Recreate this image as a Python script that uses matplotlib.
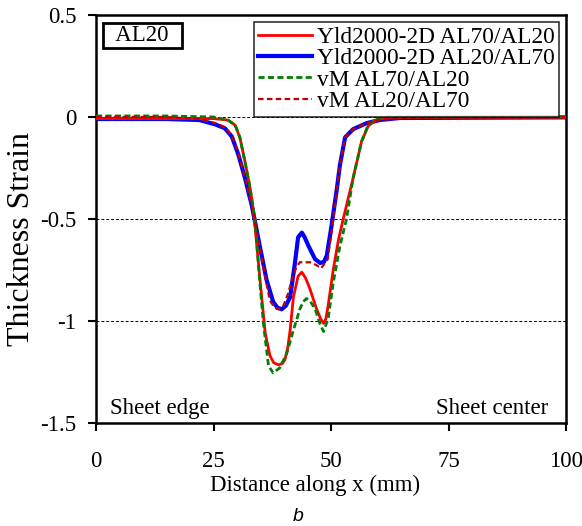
import matplotlib
matplotlib.use("Agg")
import matplotlib.pyplot as plt

plt.rcParams['font.family'] = ['Liberation Serif', 'DejaVu Serif']

# thickness strain profiles along x (mm)
x_yld_70_20 = [0, 15, 25, 28, 29.6, 30.6, 31.7, 32.8, 33.6, 34.9, 36.0, 37.0, 37.8, 38.8,
               39.6, 40.2, 40.8, 41.3, 42.0, 43.0, 43.8, 44.6, 45.5, 46.9, 47.8, 48.4, 48.9,
               49.4, 50.5, 51.6, 52.6, 54.7, 56.5, 57.9, 59.7, 61.8, 70, 100]
y_yld_70_20 = [-0.008, -0.008, -0.008, -0.015, -0.04, -0.10, -0.22, -0.35, -0.48, -0.80, -1.06,
               -1.17, -1.205, -1.215, -1.21, -1.19, -1.13, -1.045, -0.883, -0.78, -0.761, -0.79,
               -0.842, -0.94, -0.99, -1.012, -0.99, -0.923, -0.745, -0.60, -0.50, -0.30, -0.12,
               -0.045, -0.013, -0.005, -0.002, -0.002]

x_yld_20_70 = [0, 15, 22, 25.3, 27.4, 28.9, 30.3, 31.7, 33.1, 33.8, 34.9, 36.3, 37.7, 38.6,
               39.5, 40.4, 41.3, 42.3, 43.0, 43.8, 44.4, 45.2, 46.6, 47.7, 48.5, 49.1, 50.1,
               51.2, 51.9, 53.0, 54.7, 57.6, 60.4, 64.7, 100]
y_yld_20_70 = [-0.01, -0.01, -0.015, -0.036, -0.055, -0.096, -0.186, -0.30, -0.43, -0.51, -0.64,
               -0.80, -0.907, -0.935, -0.943, -0.925, -0.883, -0.72, -0.59, -0.567, -0.59,
               -0.632, -0.697, -0.716, -0.71, -0.68, -0.535, -0.36, -0.235, -0.10, -0.06, -0.03,
               -0.015, -0.005, -0.002]

x_vm_70_20 = [0, 15, 25, 28.1, 29.6, 30.6, 31.7, 32.8, 33.8, 34.7, 35.6, 36.7, 37.7, 39.1,
              40.6, 42.0, 43.4, 44.1, 44.8, 45.6, 46.6, 47.6, 48.4, 49.4, 50.5, 51.9, 53.3,
              54.7, 56.5, 57.9, 59.5, 61, 70, 100]
y_vm_70_20 = [0.005, 0.005, 0.0, -0.015, -0.04, -0.10, -0.22, -0.35, -0.50, -0.77, -1.01,
              -1.22, -1.255, -1.23, -1.158, -1.045, -0.94, -0.905, -0.89, -0.905, -0.94,
              -1.01, -1.052, -0.988, -0.81, -0.632, -0.50, -0.30, -0.12, -0.04, -0.01, 0.0,
              0.0, 0.0]

x_vm_20_70 = [0, 15, 22, 25.3, 27.4, 28.9, 30.3, 31.7, 33.1, 33.8, 34.9, 36.3, 37.0, 38.0,
              38.8, 39.8, 40.8, 41.8, 42.6, 43.4, 44.5, 45.5, 46.8, 47.9, 49.3, 50.5, 51.2,
              51.9, 53.0, 54.7, 57.6, 60.4, 64.7, 100]
y_vm_20_70 = [0.0, 0.0, -0.01, -0.03, -0.05, -0.09, -0.18, -0.30, -0.43, -0.51, -0.65, -0.82,
              -0.90, -0.935, -0.943, -0.93, -0.87, -0.79, -0.737, -0.712, -0.713, -0.712,
              -0.725, -0.742, -0.697, -0.50, -0.36, -0.235, -0.10, -0.06, -0.03, -0.015,
              -0.005, -0.002]

x_ticks = [0, 25, 50, 75, 100]
y_ticks = [0.5, 0, -0.5, -1, -1.5]
y_tick_labels = ['0.5', '0', '-0.5', '-1', '-1.5']

FS = 16.5

fig = plt.figure(figsize=(5.82, 5.26), dpi=100)
ax = fig.add_axes([0.165, 0.196, 0.8075, 0.7755])

for yv in [0, -0.5, -1]:
    ax.axhline(yv, color='black', lw=0.7, ls=(0, (3, 2)), zorder=1)

ax.plot(x_yld_70_20, y_yld_70_20, color='#ff0000', lw=2.0, label='Yld2000-2D AL70/AL20', zorder=3)
ax.plot(x_yld_20_70, y_yld_20_70, color='#0000ff', lw=3.0, label='Yld2000-2D AL20/AL70', zorder=2)
ax.plot(x_vm_70_20, y_vm_70_20, color='#008000', lw=2.0, ls=(0, (2.2, 1.2)),
        label='vM AL70/AL20', zorder=4)
ax.plot(x_vm_20_70, y_vm_20_70, color='#c00000', lw=1.6, ls=(0, (2.5, 1.5)),
        label='vM AL20/AL70', zorder=5)

ax.set_xlim(0, 100)
ax.set_ylim(-1.5, 0.5)
ax.set_xticks(x_ticks)
ax.set_xticklabels([str(v) for v in x_ticks])
ax.set_yticks(y_ticks)
ax.set_yticklabels(y_tick_labels)
ax.tick_params(direction='out', length=6, width=1.5, labelsize=FS, colors='black')
ax.tick_params(axis='x', pad=14)
ax.tick_params(axis='y', pad=8)
for sp in ax.spines.values():
    sp.set_linewidth(1.8)

ax.set_xlabel('Distance along x (mm)', fontsize=FS)
ax.xaxis.set_label_coords(0.466, -0.128)
ax.set_ylabel('Thickness Strain', fontsize=23)
ax.yaxis.set_label_coords(-0.128, 0.45)

leg = ax.legend(loc='upper right', fontsize=16.8, frameon=True, fancybox=False,
                edgecolor='black', handlelength=2.3, handletextpad=0.2,
                borderpad=0.2, labelspacing=0.0, borderaxespad=0.3)
leg.get_frame().set_linewidth(1.2)

ax.text(0.099, 0.40, '  AL20  ', fontsize=FS, va='center', ha='center',
        transform=ax.get_yaxis_transform(),
        bbox=dict(boxstyle='square,pad=0.1', fc='white', ec='black', lw=2))
ax.text(3.0, -1.427, 'Sheet edge', fontsize=FS, ha='left', va='center')
ax.text(96.2, -1.427, 'Sheet center', fontsize=FS, ha='right', va='center')

fig.text(0.512, 0.019, 'b', fontsize=14, style='italic', ha='center', va='center',
         family='Liberation Sans')

fig.savefig('out.png', dpi=100)
